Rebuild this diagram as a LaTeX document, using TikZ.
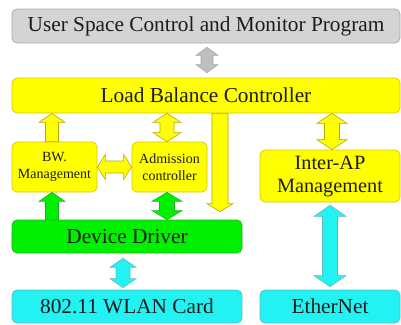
\documentclass[tikz,border=0pt]{standalone}
\usepackage{fontspec}
\setmainfont{Liberation Serif}
\usetikzlibrary{calc}
\definecolor{grayfill}{HTML}{D4D4D4}
\definecolor{grayline}{HTML}{A8A8A8}
\definecolor{yel}{HTML}{FFFF00}
\definecolor{yelline}{HTML}{D6C800}
\definecolor{grn}{HTML}{00F000}
\definecolor{grnline}{HTML}{22B022}
\definecolor{cyn}{HTML}{22F2F2}
\definecolor{cynline}{HTML}{66B8C0}
\definecolor{txt}{HTML}{1C1C1C}
% vertical double block arrow
\newcommand{\vdblarrow}[6]{%
\draw[#1] let \p1=#2, \p2=#3 in
 (\x1,\y1) -- (\x1+#5,\y1-#6) -- (\x1+#4,\y1-#6) -- (\x1+#4,\y2+#6) -- (\x1+#5,\y2+#6) -- (\x1,\y2) -- (\x1-#5,\y2+#6) -- (\x1-#4,\y2+#6) -- (\x1-#4,\y1-#6) -- (\x1-#5,\y1-#6) -- cycle;}
% vertical up block arrow (tip at top)
\newcommand{\vuparrow}[6]{%
\draw[#1] let \p1=#2, \p2=#3 in
 (\x1,\y1) -- (\x1+#5,\y1-#6) -- (\x1+#4,\y1-#6) -- (\x1+#4,\y2) -- (\x1-#4,\y2) -- (\x1-#4,\y1-#6) -- (\x1-#5,\y1-#6) -- cycle;}
% vertical down block arrow (tip at bottom)
\newcommand{\vdownarrow}[6]{%
\draw[#1] let \p1=#2, \p2=#3 in
 (\x1-#4,\y1) -- (\x1+#4,\y1) -- (\x1+#4,\y2+#6) -- (\x1+#5,\y2+#6) -- (\x1,\y2) -- (\x1-#5,\y2+#6) -- (\x1-#4,\y2+#6) -- cycle;}
% horizontal double block arrow
\newcommand{\hdblarrow}[6]{%
\draw[#1] let \p1=#2, \p2=#3 in
 (\x1,\y1) -- (\x1+#6,\y1+#5) -- (\x1+#6,\y1+#4) -- (\x2-#6,\y1+#4) -- (\x2-#6,\y1+#5) -- (\x2,\y1) -- (\x2-#6,\y1-#5) -- (\x2-#6,\y1-#4) -- (\x1+#6,\y1-#4) -- (\x1+#6,\y1-#5) -- cycle;}
\begin{document}
\begin{tikzpicture}[x=1pt,y=-1pt,
  box/.style={rounded corners=5pt, line width=0.7pt, inner sep=0pt, align=center, text=txt},
  graybox/.style={box, fill=grayfill, draw=grayline},
  yelbox/.style={box, fill=yel, draw=yelline},
  grnbox/.style={box, fill=grn, draw=grnline},
  cynbox/.style={box, fill=cyn, draw=cynline},
  bigtext/.style={font=\fontsize{21.3}{24}\selectfont},
  midtext/.style={font=\fontsize{20.3}{23}\selectfont},
  smalltext/.style={font=\fontsize{14}{17}\selectfont},
  grayarrow/.style={fill=grayfill!90!black, draw=grayline, line width=0.6pt, line join=miter},
  yelarrow/.style={fill=yel, draw=yelline!85!black, line width=0.6pt},
  grnarrow/.style={fill=grn, draw=grnline, line width=0.6pt},
  cynarrow/.style={fill=cyn, draw=cynline, line width=0.6pt}]
\useasboundingbox (0,0) rectangle (401,324);

\node[graybox, bigtext, minimum width=388pt, minimum height=34pt] (usr) at (206,26) {User Space Control and Monitor Program};
\node[yelbox, bigtext, minimum width=388pt, minimum height=35pt] (lbc) at (206,95.5) {Load Balance Controller};
\node[yelbox, smalltext, minimum width=85pt, minimum height=50pt] (bw) at (54.5,167) {BW.\\Management};
\node[yelbox, smalltext, minimum width=75pt, minimum height=50pt] (adm) at (169.5,167) {Admission\\controller};
\node[yelbox, midtext, minimum width=140pt, minimum height=52pt] (iap) at (330,176) {Inter-AP\\Management};
\node[grnbox, bigtext, minimum width=230pt, minimum height=33pt] (dd) at (127,236.5) {Device Driver};
\node[cynbox, bigtext, minimum width=230pt, minimum height=33pt] (wlan) at (127,306.5) {802.11 WLAN Card};
\node[cynbox, bigtext, minimum width=140pt, minimum height=33pt] (eth) at (330,306.5) {EtherNet};

\coordinate (xg) at (207,0);
\coordinate (xbw) at (52,0);
\coordinate (xadm) at (167,0);
\coordinate (xdown) at (220,0);
\coordinate (xiap) at (332,0);
\coordinate (xeth) at (330,0);
\coordinate (xwl) at (123,0);

% gray: user <-> lbc
\vdblarrow{grayarrow}{($(xg |- usr.south)+(0,4)$)}{($(xg |- lbc.north)+(0,-5)$)}{6pt}{11pt}{8pt}
% yellow: bw -> lbc
\vuparrow{yelarrow}{(xbw |- lbc.south)}{(xbw |- bw.north)}{6.5pt}{13pt}{9pt}
% yellow: adm <-> lbc
\vdblarrow{yelarrow}{(xadm |- lbc.south)}{(xadm |- adm.north)}{7pt}{14pt}{9pt}
% yellow: bw <-> adm
\hdblarrow{yelarrow}{(bw.east)}{(adm.west)}{6pt}{12.5pt}{8pt}
% yellow: lbc -> dd
\vdownarrow{yelarrow}{(xdown |- lbc.south)}{($(xdown |- dd.north)+(0,-8)$)}{8pt}{13pt}{8pt}
% yellow: lbc <-> iap
\vdblarrow{yelarrow}{(xiap |- lbc.south)}{(xiap |- iap.north)}{7.5pt}{15pt}{10pt}
% green: dd -> bw
\vuparrow{grnarrow}{(xbw |- bw.south)}{(xbw |- dd.north)}{6.5pt}{13pt}{9pt}
% green: dd <-> adm
\vdblarrow{grnarrow}{(xadm |- adm.south)}{(xadm |- dd.north)}{7.5pt}{15pt}{9pt}
% cyan: dd <-> wlan
\vdblarrow{cynarrow}{($(xwl |- dd.south)+(0,5)$)}{($(xwl |- wlan.north)+(0,-2)$)}{7pt}{13pt}{9pt}
% cyan: iap <-> eth
\vdblarrow{cynarrow}{($(xeth |- iap.south)+(0,3)$)}{($(xeth |- eth.north)+(0,-3)$)}{7.5pt}{16pt}{11pt}
\end{tikzpicture}
\end{document}
